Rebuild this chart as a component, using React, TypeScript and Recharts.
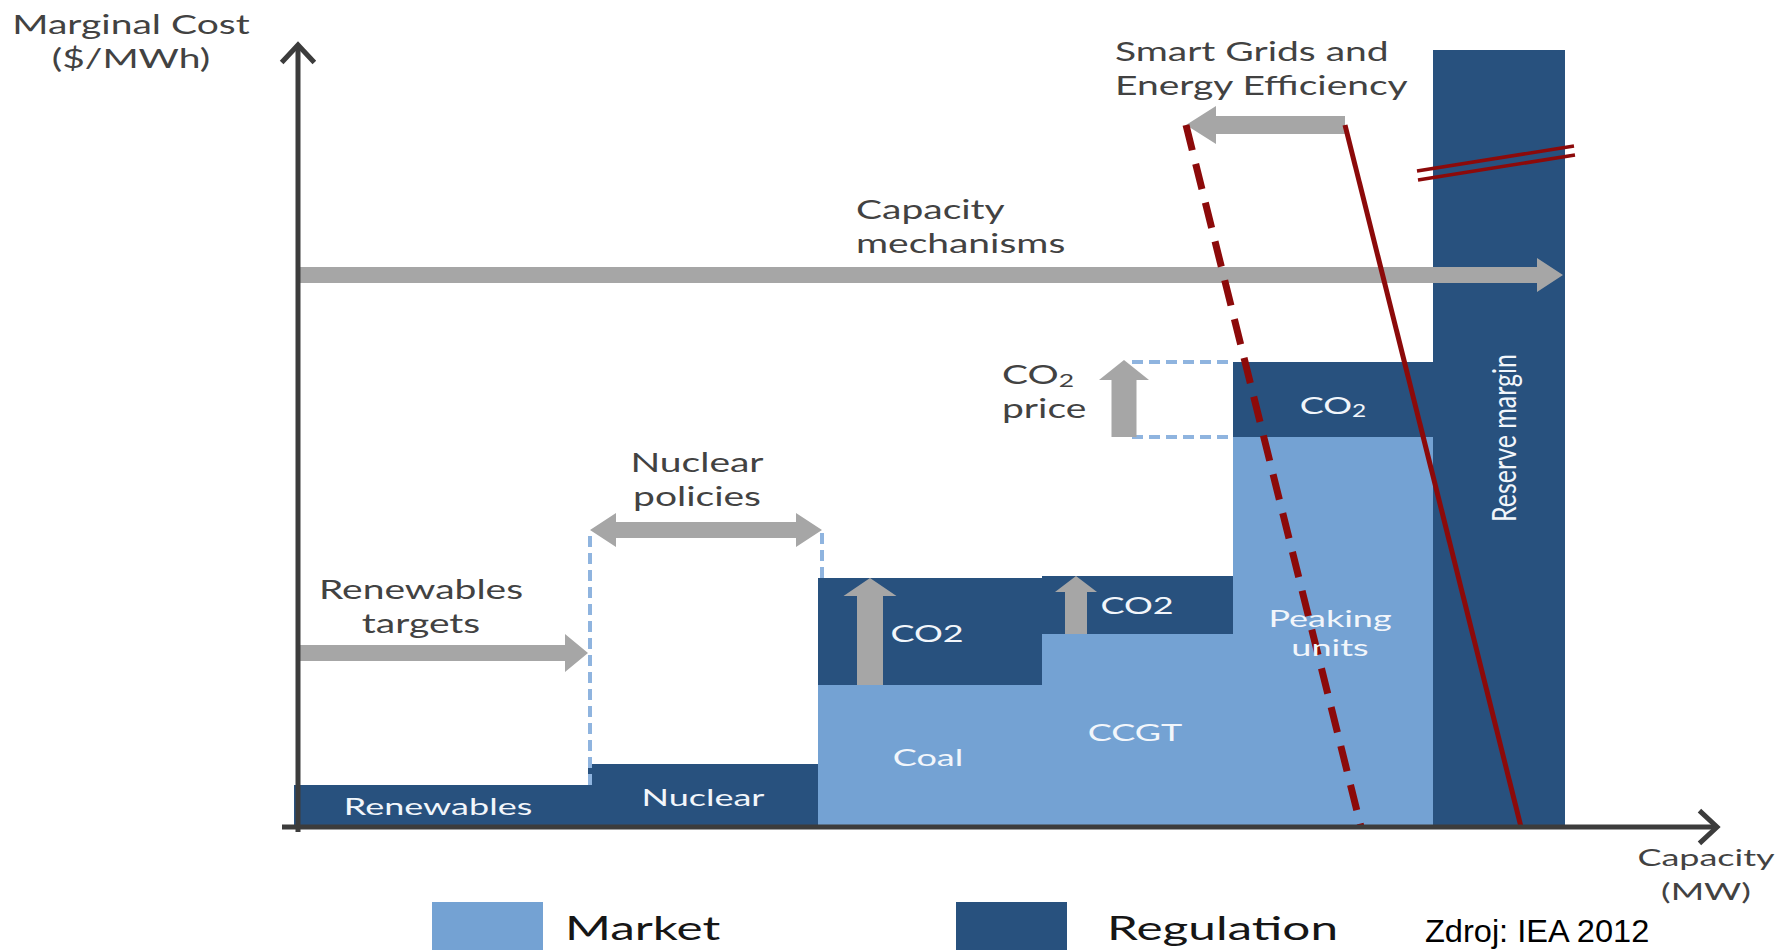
import React from "react";
import {
  ComposedChart,
  Area,
  Line,
  XAxis,
  YAxis,
  ReferenceLine,
  ReferenceDot,
  Legend,
} from "recharts";

const W = 1785;
const H = 950;

const LIGHT = "#74a2d3";
const DARK = "#28517e";
const GREY = "#a6a6a6";
const RED = "#8c0a0a";
const GUIDE = "#8fb4df";
const AXIS = "#3c3c3c";
const INK = "#424242";
const FONT = "Lato, 'Open Sans', sans-serif";
const SX = 1.5; // the source picture is stretched sideways

// merit order stack (capacity and cost in arbitrary units)
const capacityBreaks = [0.6, 30, 53, 75.4, 94.5, 114.5, 127.7];
const marketCost = [0, 0, 14.2, 19.3, 39.0, 0];
const regulatedCost = [4.2, 6.3, 10.7, 5.8, 7.5, 77.7];

// demand curves
const demandToday = [
  { cap: 105.7, cost: 70.2 },
  { cap: 123.3, cost: 0 },
];
const demandSmart = [
  { cap: 89.8, cost: 70.2 },
  { cap: 107.3, cost: 0 },
];
const breakMarkA = [
  { cap: 112.9, cost: 65.6 },
  { cap: 128.6, cost: 68.1 },
];
const breakMarkB = [
  { cap: 113.0, cost: 64.7 },
  { cap: 128.7, cost: 67.2 },
];

// policy arrows [from, to]
const capacityArrow = [[1.0, 55.2], [127.5, 55.2]];
const renewablesArrow = [[1.0, 17.4], [30, 17.4]];
const nuclearArrow = [[30.2, 29.7], [53.4, 29.7]];
const smartGridArrow = [[105.7, 70.2], [89.8, 70.2]];
const co2PriceArrow = [[83.6, 39], [83.6, 46.7]];
const co2ArrowCap = [58.2, 78.8]; // coal, CCGT

// dashed guides
const guideLines = [
  [[30.2, 4.2], [30.2, 29.7]],
  [[53.4, 24.9], [53.4, 29.7]],
  [[84.4, 46.5], [94.5, 46.5]],
  [[84.4, 39], [94.5, 39]],
];

const notes = [
  { lines: ["Marginal Cost", "($/MWh)"], at: [-15.7, 78.6], anchor: "middle", size: 26 },
  { lines: ["Smart Grids and", "Energy Efficiency"], at: [82.7, 75.9], anchor: "start", size: 26 },
  { lines: ["Capacity", "mechanisms"], at: [56.8, 60.1], anchor: "start", size: 26 },
  { lines: ["Nuclear", "policies"], at: [40.9, 34.8], anchor: "middle", size: 26 },
  { lines: ["Renewables", "targets"], at: [13.3, 22.1], anchor: "middle", size: 26 },
  { lines: ["CO_2", "price"], at: [71.4, 43.6], anchor: "start", size: 26 },
  { lines: ["Capacity", "(MW)"], at: [141.8, -4.65], anchor: "middle", size: 24 },
];

const blockLabels = [
  { lines: ["Renewables"], at: [15, 2.1] },
  { lines: ["Nuclear"], at: [41.5, 3] },
  { lines: ["Coal"], at: [64, 7] },
  { lines: ["CCGT"], at: [84.7, 9.5] },
  { lines: ["CO2"], at: [63.9, 19.4] },
  { lines: ["CO2"], at: [84.9, 22.2] },
  { lines: ["CO_2"], at: [104.5, 42.2] },
  { lines: ["Peaking", "units"], at: [104.2, 19.5] },
];
const reserveLabel = { text: "Reserve margin", at: [121.4, 38.9] };
const sourceNote = { text: "Zdroj: IEA 2012", at: [113.7, -10.4] };

const legendNames = ["Market", "Regulation"];

const supplyRows = capacityBreaks.map((cap, i) => {
  const k = Math.min(i, marketCost.length - 1);
  return { cap, market: marketCost[k], regulation: regulatedCost[k] };
});

function withSub(line: string, size: number) {
  if (!line.includes("_")) return line;
  const [a, b] = line.split("_");
  return (
    <>
      {a}
      <tspan fontSize={size * 0.68} dy={size * 0.22}>
        {b}
      </tspan>
    </>
  );
}

function Note(props: any) {
  const {
    cx,
    cy,
    lines,
    size = 26,
    color = INK,
    anchor = "middle",
    gap = 34,
    rotate = 0,
    family = FONT,
    stretch = SX,
  } = props;
  const n = lines.length;
  const tr = rotate
    ? `translate(${cx},${cy}) rotate(${rotate}) scale(1,${stretch})`
    : `translate(${cx},${cy}) scale(${stretch},1)`;
  return (
    <g transform={tr}>
      <text
        textAnchor={anchor}
        fontSize={size}
        fill={color}
        fontFamily={family}
        dominantBaseline="central"
      >
        {lines.map((l: string, i: number) => (
          <tspan key={i} x={0} y={(i - (n - 1) / 2) * gap}>
            {withSub(l, size)}
          </tspan>
        ))}
      </text>
    </g>
  );
}

function blockArrow(shaft: number, head: number, tip: number, both = false) {
  return (p: any) => {
    const { x1, y1, x2, y2 } = p;
    const dx = x2 - x1;
    const dy = y2 - y1;
    const len = Math.hypot(dx, dy) || 1;
    const ux = dx / len;
    const uy = dy / len;
    const pt = (a: number, o: number) =>
      `${x1 + ux * a - uy * o},${y1 + uy * a + ux * o}`;
    const pts = both
      ? [
          pt(0, 0), pt(tip, head / 2), pt(tip, shaft / 2), pt(len - tip, shaft / 2),
          pt(len - tip, head / 2), pt(len, 0), pt(len - tip, -head / 2),
          pt(len - tip, -shaft / 2), pt(tip, -shaft / 2), pt(tip, -head / 2),
        ]
      : [
          pt(0, shaft / 2), pt(len - tip, shaft / 2), pt(len - tip, head / 2),
          pt(len, 0), pt(len - tip, -head / 2), pt(len - tip, -shaft / 2), pt(0, -shaft / 2),
        ];
    return <polygon points={pts.join(" ")} fill={GREY} />;
  };
}

function axisArrow(p: any) {
  const { x1, y1, x2, y2 } = p;
  const a = Math.atan2(y2 - y1, x2 - x1);
  const arm = 24;
  const sp = 0.75;
  const ax = x2 - arm * Math.cos(a - sp);
  const ay = y2 - arm * Math.sin(a - sp);
  const bx = x2 - arm * Math.cos(a + sp);
  const by = y2 - arm * Math.sin(a + sp);
  return (
    <g stroke={AXIS} strokeWidth={5} fill="none">
      <line x1={x1} y1={y1} x2={x2} y2={y2} />
      <polyline points={`${ax},${ay} ${x2},${y2} ${bx},${by}`} strokeLinejoin="miter" />
    </g>
  );
}

function LegendBox() {
  const swatchLeft = [432, 956];
  const textLeft = [565, 1107];
  const fills = [LIGHT, DARK];
  return (
    <div style={{ position: "relative", width: W, height: 60 }}>
      {legendNames.map((name, i) => (
        <React.Fragment key={name}>
          <div
            style={{
              position: "absolute",
              left: swatchLeft[i],
              top: 2,
              width: 111,
              height: 60,
              background: fills[i],
            }}
          />
          <div
            style={{
              position: "absolute",
              left: textLeft[i],
              top: 7,
              fontFamily: FONT,
              fontSize: 33,
              color: "#161616",
              transform: `scaleX(${SX})`,
              transformOrigin: "left center",
              whiteSpace: "nowrap",
            }}
          >
            {name}
          </div>
        </React.Fragment>
      ))}
    </div>
  );
}

export default function App() {
  return (
    <div
      style={{
        position: "absolute",
        left: 0,
        top: 0,
        width: W,
        height: H,
        overflow: "hidden",
        background: "#fff",
      }}
    >
      <ComposedChart
        width={W}
        height={H}
        data={supplyRows}
        margin={{ top: 45, right: 68, bottom: 123, left: 288 }}
      >
        <XAxis
          hide
          type="number"
          dataKey="cap"
          domain={[0, 142.9]}
          allowDataOverflow
        />
        <YAxis hide type="number" domain={[0, 78.2]} allowDataOverflow />
        <Legend
          layout="horizontal"
          verticalAlign="middle"
          align="center"
          wrapperStyle={{ top: 900, left: 0, width: W, height: 60 }}
          content={() => <LegendBox />}
        />
        <Area
          name="Market"
          dataKey="market"
          stackId="supply"
          type="stepAfter"
          fill={LIGHT}
          fillOpacity={1}
          stroke="none"
          dot={false}
          activeDot={false}
          isAnimationActive={false}
        />
        <Area
          name="Regulation"
          dataKey="regulation"
          stackId="supply"
          type="stepAfter"
          fill={DARK}
          fillOpacity={1}
          stroke="none"
          dot={false}
          activeDot={false}
          isAnimationActive={false}
        />

        {blockLabels.map((b, i) => (
          <ReferenceDot
            key={`bl-${i}`}
            x={b.at[0]}
            y={b.at[1]}
            r={0}
            ifOverflow="visible"
            shape={(p: any) => (
              <Note cx={p.cx} cy={p.cy} lines={b.lines} color="#f2f6fb" size={24} gap={29} />
            )}
          />
        ))}
        <ReferenceDot
          x={reserveLabel.at[0]}
          y={reserveLabel.at[1]}
          r={0}
          ifOverflow="visible"
          shape={(p: any) => (
            <Note
              cx={p.cx}
              cy={p.cy}
              lines={[reserveLabel.text]}
              color="#f2f6fb"
              size={25}
              rotate={-90}
              stretch={1.35}
            />
          )}
        />

        {guideLines.map((g, i) => (
          <ReferenceLine
            key={`g-${i}`}
            segment={[
              { x: g[0][0], y: g[0][1] },
              { x: g[1][0], y: g[1][1] },
            ]}
            stroke={GUIDE}
            strokeWidth={4}
            strokeDasharray="11 6"
            ifOverflow="visible"
          />
        ))}

        {[
          { seg: capacityArrow, s: blockArrow(16, 34, 26) },
          { seg: renewablesArrow, s: blockArrow(16, 38, 23) },
          { seg: nuclearArrow, s: blockArrow(16, 34, 26, true) },
          { seg: smartGridArrow, s: blockArrow(18, 38, 30) },
          { seg: co2PriceArrow, s: blockArrow(25, 50, 20) },
          {
            seg: [
              [co2ArrowCap[0], marketCost[2]],
              [co2ArrowCap[0], marketCost[2] + regulatedCost[2]],
            ],
            s: blockArrow(26, 53, 18),
          },
          {
            seg: [
              [co2ArrowCap[1], marketCost[3]],
              [co2ArrowCap[1], marketCost[3] + regulatedCost[3]],
            ],
            s: blockArrow(22, 42, 16),
          },
        ].map((a, i) => (
          <ReferenceLine
            key={`a-${i}`}
            segment={[
              { x: a.seg[0][0], y: a.seg[0][1] },
              { x: a.seg[1][0], y: a.seg[1][1] },
            ]}
            ifOverflow="visible"
            shape={a.s}
          />
        ))}

        <Line
          data={demandSmart}
          dataKey="cost"
          type="linear"
          stroke={RED}
          strokeWidth={7}
          strokeDasharray="26 14"
          dot={false}
          activeDot={false}
          legendType="none"
          isAnimationActive={false}
        />
        <Line
          data={demandToday}
          dataKey="cost"
          type="linear"
          stroke={RED}
          strokeWidth={5}
          dot={false}
          activeDot={false}
          legendType="none"
          isAnimationActive={false}
        />
        <Line
          data={breakMarkA}
          dataKey="cost"
          type="linear"
          stroke={RED}
          strokeWidth={3.5}
          dot={false}
          activeDot={false}
          legendType="none"
          isAnimationActive={false}
        />
        <Line
          data={breakMarkB}
          dataKey="cost"
          type="linear"
          stroke={RED}
          strokeWidth={3.5}
          dot={false}
          activeDot={false}
          legendType="none"
          isAnimationActive={false}
        />

        <ReferenceLine
          segment={[
            { x: 1.0, y: -0.5 },
            { x: 1.0, y: 78.2 },
          ]}
          ifOverflow="visible"
          shape={axisArrow}
        />
        <ReferenceLine
          segment={[
            { x: -0.6, y: 0 },
            { x: 142.9, y: 0 },
          ]}
          ifOverflow="visible"
          shape={axisArrow}
        />

        {notes.map((n, i) => (
          <ReferenceDot
            key={`n-${i}`}
            x={n.at[0]}
            y={n.at[1]}
            r={0}
            ifOverflow="visible"
            shape={(p: any) => (
              <Note cx={p.cx} cy={p.cy} lines={n.lines} anchor={n.anchor} size={n.size} />
            )}
          />
        ))}
        <ReferenceDot
          x={sourceNote.at[0]}
          y={sourceNote.at[1]}
          r={0}
          ifOverflow="visible"
          shape={(p: any) => (
            <Note
              cx={p.cx}
              cy={p.cy}
              lines={[sourceNote.text]}
              anchor="start"
              size={31}
              color="#000"
              family="'Liberation Sans', Arial, sans-serif"
              stretch={1.05}
            />
          )}
        />
      </ComposedChart>
    </div>
  );
}
